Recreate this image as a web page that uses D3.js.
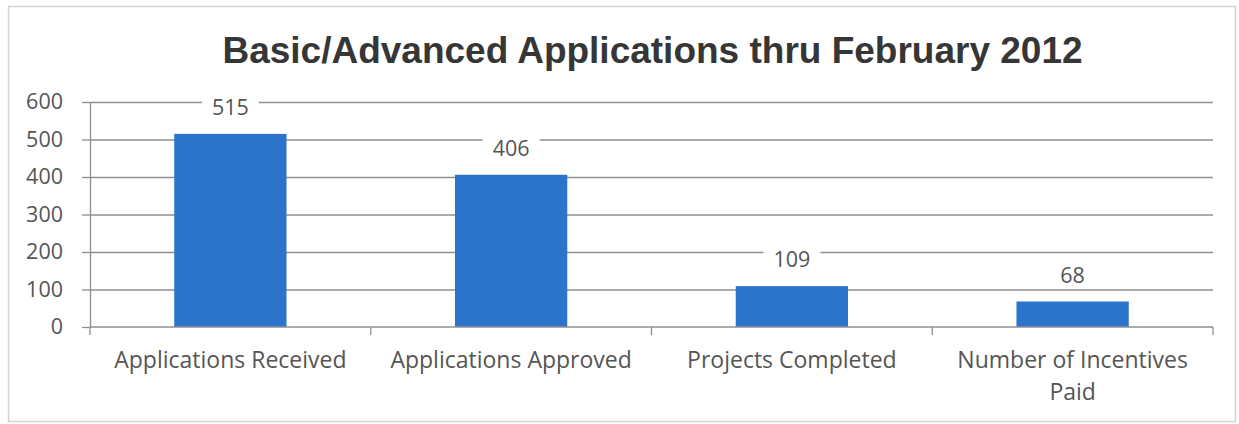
<!DOCTYPE html>
<html>
<head>
<meta charset="utf-8">
<script src="https://cdn.jsdelivr.net/npm/d3@7"></script>
<style>
  html, body { margin: 0; padding: 0; background: #fff; }
  svg { display: block; }
</style>
</head>
<body>
<svg id="chart" width="1239" height="424"></svg>
<script>
// Chart data
const chartTitle = "Basic/Advanced Applications thru February 2012";
const categories = ["Applications Received", "Applications Approved", "Projects Completed", "Number of Incentives Paid"];
const values = [515, 406, 109, 68];
const yTicks = [0, 100, 200, 300, 400, 500, 600];

const plot = { left: 90, right: 1213, top: 102, bottom: 327 };
const labelFont = "'Open Sans', Lato, sans-serif";
const labelSize = 21.5;
const categorySize = 23;
const textGray = "#555555";
const axisGray = "#8f8f8f";

const svg = d3.select("#chart");

// Chart area frame
svg.append("rect")
  .attr("x", 8.5).attr("y", 6.5)
  .attr("width", 1227).attr("height", 415)
  .attr("fill", "#fff")
  .attr("stroke", "#d4d4d4")
  .attr("stroke-width", 1.5);

const x = d3.scaleBand()
  .domain(categories)
  .range([plot.left, plot.right])
  .paddingInner(0.6)
  .paddingOuter(0.3);

const y = d3.scaleLinear()
  .domain([0, 600])
  .range([plot.bottom, plot.top]);

// Title
svg.append("text")
  .attr("x", (plot.left + plot.right) / 2 + 1)
  .attr("y", 63)
  .attr("text-anchor", "middle")
  .attr("font-family", "'Liberation Sans', Arial, sans-serif")
  .attr("font-weight", "bold")
  .attr("font-size", 37)
  .attr("fill", "#363636")
  .text(chartTitle);

// Horizontal gridlines
svg.append("g")
  .attr("transform", `translate(${plot.left},0)`)
  .call(d3.axisLeft(y).tickValues(yTicks.filter(v => v > 0)).tickSize(-(plot.right - plot.left)).tickFormat(""))
  .call(g => g.select(".domain").remove())
  .call(g => g.selectAll("line").attr("stroke", axisGray).attr("stroke-width", 1.3));

// Y axis
const yAxis = svg.append("g")
  .attr("transform", `translate(${plot.left},0)`)
  .call(d3.axisLeft(y).tickValues(yTicks).tickSize(8).tickSizeOuter(0).tickPadding(19));
yAxis.select(".domain").attr("stroke", axisGray).attr("stroke-width", 1.3);
yAxis.selectAll("line").attr("stroke", axisGray).attr("stroke-width", 1.3);
yAxis.selectAll("text")
  .attr("font-family", labelFont)
  .attr("font-size", labelSize)
  .attr("fill", textGray);

// Bars
svg.append("g").selectAll("rect")
  .data(categories)
  .join("rect")
  .attr("x", d => x(d))
  .attr("width", x.bandwidth())
  .attr("y", (d, i) => y(values[i]))
  .attr("height", (d, i) => y(0) - y(values[i]))
  .attr("fill", "#2c74cb");

// Category axis with boundary ticks
const step = x.step();
const gap = step - x.bandwidth();
const boundaries = categories.map(c => x(c) - gap / 2).concat([plot.right]);
const xAxis = svg.append("g");
xAxis.append("line")
  .attr("x1", plot.left).attr("x2", plot.right)
  .attr("y1", plot.bottom).attr("y2", plot.bottom)
  .attr("stroke", axisGray).attr("stroke-width", 1.3);
xAxis.selectAll("line.tick")
  .data(boundaries)
  .join("line")
  .attr("class", "tick")
  .attr("x1", d => d).attr("x2", d => d)
  .attr("y1", plot.bottom).attr("y2", plot.bottom + 8)
  .attr("stroke", axisGray).attr("stroke-width", 1.3);

// Category labels, wrapped to the width of a category slot
const maxLabelWidth = step - 25;
const lineHeight = 32;
categories.forEach(cat => {
  const cx = x(cat) + x.bandwidth() / 2;
  const t = xAxis.append("text")
    .attr("x", cx)
    .attr("y", 368)
    .attr("text-anchor", "middle")
    .attr("font-family", labelFont)
    .attr("font-size", categorySize)
    .attr("fill", textGray);
  const words = cat.split(" ");
  let line = [];
  let tspan = t.append("tspan").attr("x", cx).attr("dy", 0);
  words.forEach(w => {
    line.push(w);
    tspan.text(line.join(" "));
    if (tspan.node().getComputedTextLength() > maxLabelWidth && line.length > 1) {
      line.pop();
      tspan.text(line.join(" "));
      line = [w];
      tspan = t.append("tspan")
        .attr("x", cx)
        .attr("dy", lineHeight)
        .text(w);
    }
  });
});

// Value labels above the bars, on a white backing
const labels = svg.append("g").selectAll("g")
  .data(categories)
  .join("g");
labels.each(function(d, i) {
  const g = d3.select(this);
  const cx = x(d) + x.bandwidth() / 2;
  const by = y(values[i]) - 19;
  const bg = g.append("rect").attr("fill", "#fff");
  const t = g.append("text")
    .attr("x", cx)
    .attr("y", by)
    .attr("text-anchor", "middle")
    .attr("font-family", labelFont)
    .attr("font-size", labelSize)
    .attr("fill", textGray)
    .text(values[i]);
  const bb = t.node().getBBox();
  bg.attr("x", bb.x - 10).attr("y", bb.y)
    .attr("width", bb.width + 20).attr("height", bb.height);
});
</script>
</body>
</html>
